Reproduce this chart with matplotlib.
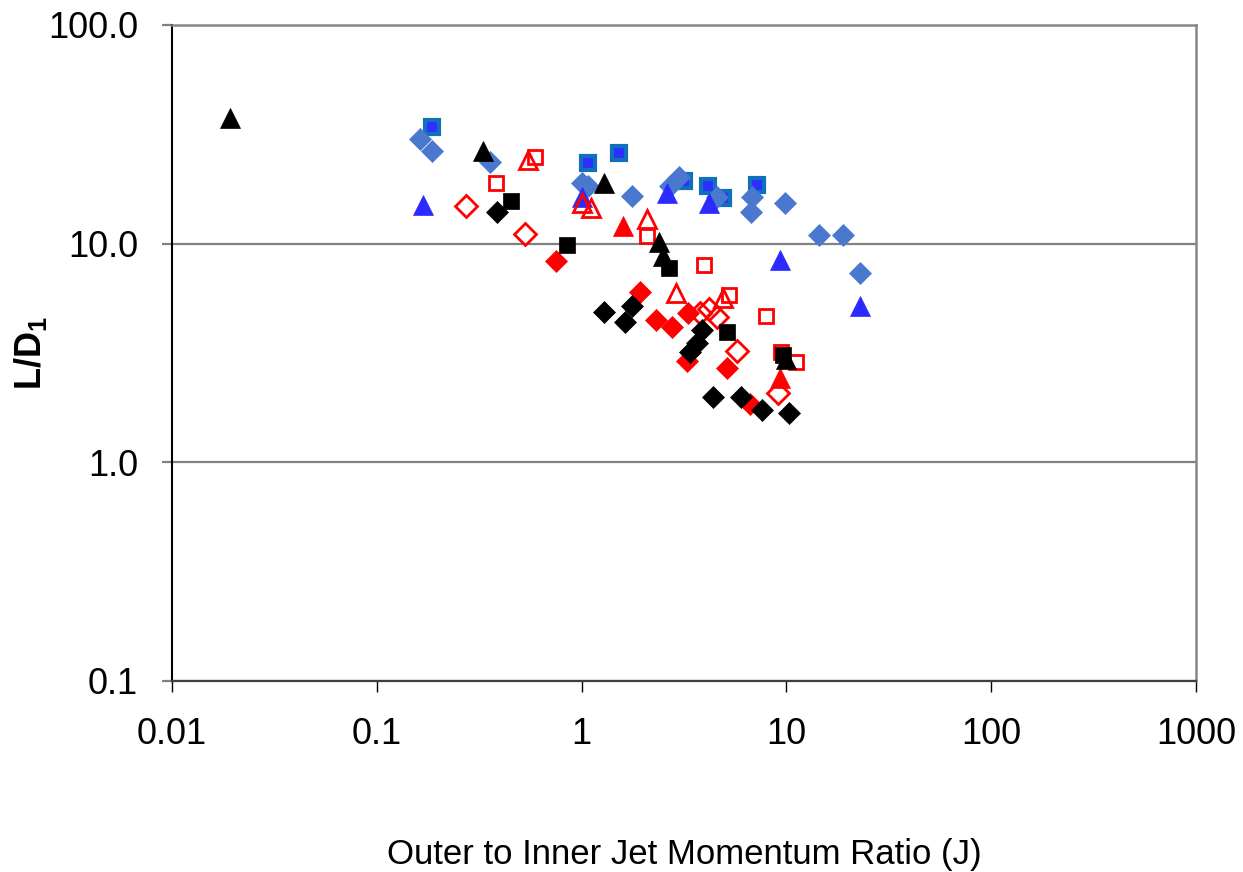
import matplotlib
matplotlib.use('Agg')
import matplotlib.pyplot as plt
from matplotlib.ticker import FixedLocator, FixedFormatter, NullLocator

plt.rcParams['font.family'] = ['Liberation Sans', 'DejaVu Sans']
plt.rcParams['mathtext.fontset'] = 'custom'
plt.rcParams['mathtext.rm'] = 'Liberation Sans'
plt.rcParams['mathtext.bf'] = 'Liberation Sans:bold'

# blue series
blue_sq_j = [0.185, 1.07, 1.52, 3.18, 4.12, 4.88, 7.15]
blue_sq_ld = [34.3, 23.5, 26.1, 19.4, 18.4, 16.1, 18.6]
blue_dia_j = [0.162, 0.185, 0.356, 1.01, 1.07, 1.77, 2.98, 2.69, 4.56, 6.76, 6.69, 9.80, 14.5, 18.8, 23.0]
blue_dia_ld = [30.2, 26.6, 23.7, 19.0, 18.4, 16.6, 20.2, 18.4, 16.4, 16.4, 14.0, 15.4, 10.9, 10.9, 7.37]
blue_tri_j = [0.169, 1.00, 2.60, 4.17, 9.27, 23.0]
blue_tri_ld = [15.1, 16.4, 17.1, 15.4, 8.45, 5.21]

# red series
red_osq_j = [0.590, 0.380, 2.08, 3.94, 5.22, 7.92, 9.37, 11.2]
red_osq_ld = [25.0, 19.0, 10.8, 8.02, 5.85, 4.69, 3.18, 2.89]
red_otri_j = [0.545, 1.00, 1.11, 2.08, 2.88, 4.88]
red_otri_ld = [24.2, 15.4, 14.6, 12.9, 5.97, 5.66]
red_odia_j = [0.274, 0.527, 3.77, 4.17, 4.56, 5.71, 9.06]
red_odia_ld = [14.8, 11.1, 4.84, 5.04, 4.64, 3.24, 2.08]
red_dia_j = [0.746, 1.92, 2.30, 2.75, 3.29, 3.26, 5.11, 6.61]
red_dia_ld = [8.36, 6.03, 4.49, 4.17, 4.84, 2.92, 2.71, 1.84]
red_tri_j = [1.60, 9.27]
red_tri_ld = [12.0, 2.44]

# black series
blk_dia_j = [0.385, 1.29, 1.62, 1.77, 3.86, 3.64, 3.37, 4.36, 5.98, 7.57, 10.3]
blk_dia_ld = [14.0, 4.89, 4.40, 5.21, 4.04, 3.52, 3.21, 1.98, 1.98, 1.74, 1.69]
blk_sq_j = [0.450, 0.845, 2.66, 5.11, 9.58]
blk_sq_ld = [15.7, 9.9, 7.77, 3.96, 3.11]
blk_tri_j = [0.0191, 0.329, 1.29, 2.40, 2.49, 10.0]
blk_tri_ld = [37.7, 26.6, 19.0, 10.2, 8.81, 2.98]

x_ticks = [0.01, 0.1, 1, 10, 100, 1000]
x_labels = ['0.01', '0.1', '1', '10', '100', '1000']
y_ticks = [0.1, 1, 10, 100]
y_labels = ['0.1', '1.0', '10.0', '100.0']

fig = plt.figure(figsize=(12.43, 8.72), dpi=100)
ax = fig.add_axes([172 / 1243, 1 - 681 / 872, 1024 / 1243, 656 / 872])
ax.set_xscale('log')
ax.set_yscale('log')
ax.set_xlim(0.01, 1000)
ax.set_ylim(0.1, 100)

lb = '#4A78CE'
ax.plot(blue_sq_j, blue_sq_ld, 's', ms=10, mfc='#2E2EFF', mec='#1170BE', mew=3, ls='none', zorder=3)
ax.plot(blue_dia_j, blue_dia_ld, 'D', ms=11.5, mfc=lb, mec=lb, mew=0.5, ls='none', zorder=3)
ax.plot(blue_tri_j, blue_tri_ld, '^', ms=14, mfc='#2B2BFF', mec='#2B2BFF', mew=0.5, ls='none', zorder=3)

ax.plot(red_osq_j, red_osq_ld, 's', ms=10, mfc='none', mec='red', mew=2, ls='none', zorder=3)
ax.plot(red_otri_j, red_otri_ld, '^', ms=13, mfc='none', mec='red', mew=2, ls='none', zorder=3)
ax.plot(red_odia_j, red_odia_ld, 'D', ms=11, mfc='none', mec='red', mew=2, ls='none', zorder=3)
ax.plot(red_dia_j, red_dia_ld, 'D', ms=11.5, mfc='red', mec='red', mew=0.5, ls='none', zorder=3)
ax.plot(red_tri_j, red_tri_ld, '^', ms=14, mfc='red', mec='red', mew=0.5, ls='none', zorder=3)

ax.plot(blk_dia_j, blk_dia_ld, 'D', ms=11.5, mfc='black', mec='black', mew=0.5, ls='none', zorder=3)
ax.plot(blk_sq_j, blk_sq_ld, 's', ms=11.5, mfc='black', mec='black', mew=0.5, ls='none', zorder=3)
ax.plot(blk_tri_j, blk_tri_ld, '^', ms=14, mfc='black', mec='black', mew=0.5, ls='none', zorder=3)

ax.xaxis.set_major_locator(FixedLocator(x_ticks))
ax.xaxis.set_major_formatter(FixedFormatter(x_labels))
ax.yaxis.set_major_locator(FixedLocator(y_ticks))
ax.yaxis.set_major_formatter(FixedFormatter(y_labels))
ax.xaxis.set_minor_locator(NullLocator())
ax.yaxis.set_minor_locator(NullLocator())

ax.yaxis.grid(True, color='#808080', lw=1.6, zorder=1)
ax.set_axisbelow(True)
ax.tick_params(axis='x', direction='out', length=8, width=1, color='black',
               labelsize=26, pad=18)
ax.tick_params(axis='y', direction='out', length=7.5, width=1.6, color='#808080',
               labelsize=26, pad=17)

ax.spines['left'].set_color('black')
ax.spines['left'].set_linewidth(1.5)
ax.spines['bottom'].set_color('#404040')
ax.spines['bottom'].set_linewidth(1.6)
for s in ['top', 'right']:
    ax.spines[s].set_color('#888888')
    ax.spines[s].set_linewidth(1.8)

ax.set_xlabel('Outer to Inner Jet Momentum Ratio (J)', fontsize=25, va='center')
ax.xaxis.set_label_coords(0.5, -0.265)
ax.set_ylabel(r'$\mathbf{L/D_1}$', fontsize=26, va='center')
ax.yaxis.set_label_coords(-0.138, 0.5)

plt.savefig('out.png', dpi=100)
plt.close()
